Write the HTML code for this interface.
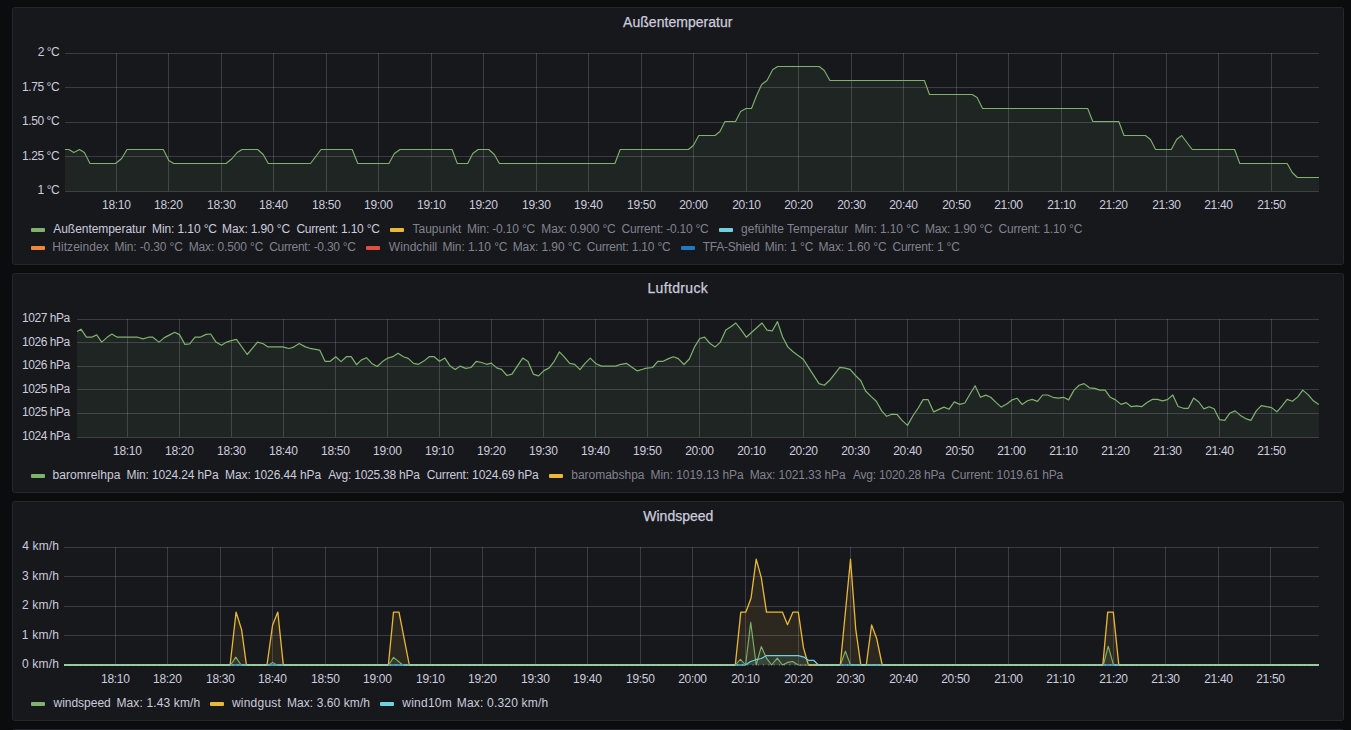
<!DOCTYPE html>
<html><head><meta charset="utf-8"><title>Grafana</title>
<style>
html,body{margin:0;padding:0;background:#0b0c0e;width:1351px;height:730px;overflow:hidden;}
svg{display:block;font-family:"Liberation Sans",sans-serif;}
.ttl{stroke:#ccccdc;stroke-width:0.25px;}
</style></head><body>
<svg width="1351" height="730" viewBox="0 0 1351 730">
<rect x="12.5" y="7.5" width="1331" height="257" rx="2" ry="2" fill="#17181c" stroke="#25272c" stroke-width="1"/>
<rect x="12.5" y="273.5" width="1331" height="219" rx="2" ry="2" fill="#17181c" stroke="#25272c" stroke-width="1"/>
<rect x="12.5" y="501.5" width="1331" height="219" rx="2" ry="2" fill="#17181c" stroke="#25272c" stroke-width="1"/>
<rect x="12.5" y="729.5" width="1331" height="219" rx="2" ry="2" fill="#17181c" stroke="#25272c" stroke-width="1"/>
<path d="M65.0,191.5 L65.0,149.5 L68.9,149.5 L73.8,152.5 L79.5,149.5 L84.4,152.5 L90.0,163.5 L115.5,163.5 L121.7,158.5 L127.0,149.5 L163.3,149.5 L168.8,160.5 L173.7,163.5 L226.1,163.5 L232.1,158.5 L237.2,152.5 L242.1,149.5 L257.6,149.5 L263.2,154.5 L268.3,163.5 L310.5,163.5 L321.0,149.5 L352.2,149.5 L357.8,163.5 L388.9,163.5 L394.4,153.5 L400.0,149.5 L452.1,149.5 L457.3,163.5 L467.7,163.5 L472.8,153.5 L478.1,149.5 L488.8,149.5 L494.3,154.5 L499.4,163.5 L614.9,163.5 L620.2,149.5 L688.4,149.5 L693.3,145.5 L698.8,135.5 L715.0,135.5 L719.9,131.5 L725.0,121.5 L735.5,121.5 L740.6,111.5 L745.9,108.5 L751.5,108.5 L756.6,95.5 L761.7,84.5 L767.0,80.5 L772.8,69.5 L777.7,66.5 L819.2,66.5 L824.3,70.5 L829.9,80.5 L924.4,80.5 L929.5,94.5 L972.2,94.5 L977.1,97.5 L982.6,108.5 L1087.7,108.5 L1092.8,121.5 L1118.8,121.5 L1124.0,135.5 L1145.4,135.5 L1150.5,139.5 L1155.6,149.5 L1171.3,149.5 L1176.6,139.5 L1181.7,135.5 L1192.2,149.5 L1234.6,149.5 L1239.8,163.5 L1287.2,163.5 L1292.2,172.5 L1297.4,177.5 L1319.0,177.5 L1319.0,191.5 Z" fill="#7EB26D" fill-opacity="0.09"/>
<line x1="65" y1="53.5" x2="1319" y2="53.5" stroke="rgba(204,204,220,0.2)"/>
<line x1="65" y1="87.5" x2="1319" y2="87.5" stroke="rgba(204,204,220,0.2)"/>
<line x1="65" y1="122.5" x2="1319" y2="122.5" stroke="rgba(204,204,220,0.2)"/>
<line x1="65" y1="156.5" x2="1319" y2="156.5" stroke="rgba(204,204,220,0.2)"/>
<line x1="65" y1="191.5" x2="1319" y2="191.5" stroke="rgba(204,204,220,0.2)"/>
<line x1="116.5" y1="53" x2="116.5" y2="191" stroke="rgba(204,204,220,0.2)"/>
<line x1="168.5" y1="53" x2="168.5" y2="191" stroke="rgba(204,204,220,0.2)"/>
<line x1="221.5" y1="53" x2="221.5" y2="191" stroke="rgba(204,204,220,0.2)"/>
<line x1="273.5" y1="53" x2="273.5" y2="191" stroke="rgba(204,204,220,0.2)"/>
<line x1="326.5" y1="53" x2="326.5" y2="191" stroke="rgba(204,204,220,0.2)"/>
<line x1="378.5" y1="53" x2="378.5" y2="191" stroke="rgba(204,204,220,0.2)"/>
<line x1="431.5" y1="53" x2="431.5" y2="191" stroke="rgba(204,204,220,0.2)"/>
<line x1="483.5" y1="53" x2="483.5" y2="191" stroke="rgba(204,204,220,0.2)"/>
<line x1="536.5" y1="53" x2="536.5" y2="191" stroke="rgba(204,204,220,0.2)"/>
<line x1="588.5" y1="53" x2="588.5" y2="191" stroke="rgba(204,204,220,0.2)"/>
<line x1="641.5" y1="53" x2="641.5" y2="191" stroke="rgba(204,204,220,0.2)"/>
<line x1="693.5" y1="53" x2="693.5" y2="191" stroke="rgba(204,204,220,0.2)"/>
<line x1="746.5" y1="53" x2="746.5" y2="191" stroke="rgba(204,204,220,0.2)"/>
<line x1="798.5" y1="53" x2="798.5" y2="191" stroke="rgba(204,204,220,0.2)"/>
<line x1="851.5" y1="53" x2="851.5" y2="191" stroke="rgba(204,204,220,0.2)"/>
<line x1="903.5" y1="53" x2="903.5" y2="191" stroke="rgba(204,204,220,0.2)"/>
<line x1="956.5" y1="53" x2="956.5" y2="191" stroke="rgba(204,204,220,0.2)"/>
<line x1="1008.5" y1="53" x2="1008.5" y2="191" stroke="rgba(204,204,220,0.2)"/>
<line x1="1061.5" y1="53" x2="1061.5" y2="191" stroke="rgba(204,204,220,0.2)"/>
<line x1="1113.5" y1="53" x2="1113.5" y2="191" stroke="rgba(204,204,220,0.2)"/>
<line x1="1166.5" y1="53" x2="1166.5" y2="191" stroke="rgba(204,204,220,0.2)"/>
<line x1="1218.5" y1="53" x2="1218.5" y2="191" stroke="rgba(204,204,220,0.2)"/>
<line x1="1271.5" y1="53" x2="1271.5" y2="191" stroke="rgba(204,204,220,0.2)"/>
<polyline points="65.0,149.5 68.9,149.5 73.8,152.5 79.5,149.5 84.4,152.5 90.0,163.5 115.5,163.5 121.7,158.5 127.0,149.5 163.3,149.5 168.8,160.5 173.7,163.5 226.1,163.5 232.1,158.5 237.2,152.5 242.1,149.5 257.6,149.5 263.2,154.5 268.3,163.5 310.5,163.5 321.0,149.5 352.2,149.5 357.8,163.5 388.9,163.5 394.4,153.5 400.0,149.5 452.1,149.5 457.3,163.5 467.7,163.5 472.8,153.5 478.1,149.5 488.8,149.5 494.3,154.5 499.4,163.5 614.9,163.5 620.2,149.5 688.4,149.5 693.3,145.5 698.8,135.5 715.0,135.5 719.9,131.5 725.0,121.5 735.5,121.5 740.6,111.5 745.9,108.5 751.5,108.5 756.6,95.5 761.7,84.5 767.0,80.5 772.8,69.5 777.7,66.5 819.2,66.5 824.3,70.5 829.9,80.5 924.4,80.5 929.5,94.5 972.2,94.5 977.1,97.5 982.6,108.5 1087.7,108.5 1092.8,121.5 1118.8,121.5 1124.0,135.5 1145.4,135.5 1150.5,139.5 1155.6,149.5 1171.3,149.5 1176.6,139.5 1181.7,135.5 1192.2,149.5 1234.6,149.5 1239.8,163.5 1287.2,163.5 1292.2,172.5 1297.4,177.5 1319.0,177.5" fill="none" stroke="#7EB26D" stroke-width="1.1" stroke-linejoin="round"/>
<rect x="31" y="228" width="14" height="4" rx="1" fill="#7EB26D"/>
<rect x="390" y="228" width="14" height="4" rx="1" fill="#EAB839"/>
<rect x="719" y="228" width="14" height="4" rx="1" fill="#6ED0E0"/>
<rect x="31" y="246" width="14" height="4" rx="1" fill="#EF843C"/>
<rect x="366" y="246" width="14" height="4" rx="1" fill="#E24D42"/>
<rect x="681" y="246" width="14" height="4" rx="1" fill="#1F78C1"/>
<path d="M77.1,437.5 L77.1,331.4 L81.0,329.2 L86.4,337.2 L91.7,337.2 L96.7,334.9 L101.7,342.1 L107.4,337.1 L111.9,334.0 L117.2,337.2 L137.7,337.2 L143.0,338.9 L148.4,337.2 L152.8,337.2 L159.0,342.1 L164.4,337.6 L169.7,334.9 L174.7,332.3 L179.5,334.6 L184.9,344.4 L189.7,343.8 L195.0,337.2 L200.0,337.2 L206.2,334.4 L210.7,334.0 L216.0,342.1 L221.4,345.3 L226.7,342.1 L231.2,340.6 L236.5,339.4 L247.2,354.5 L257.5,342.1 L263.2,343.8 L268.0,346.9 L282.8,346.9 L288.9,348.5 L292.9,347.4 L299.2,343.5 L305.4,346.9 L309.9,348.3 L319.7,350.1 L325.0,361.3 L330.3,361.3 L335.7,356.8 L341.0,361.6 L346.4,356.7 L351.2,356.7 L356.5,364.7 L361.5,359.9 L366.5,357.7 L371.8,363.4 L377.2,366.5 L382.5,361.6 L387.9,358.1 L392.7,356.7 L398.0,353.3 L403.4,356.7 L408.2,358.4 L413.5,363.4 L418.5,364.3 L423.8,361.1 L429.2,356.7 L434.2,356.7 L439.5,361.3 L444.9,358.1 L450.2,366.1 L455.2,369.5 L460.3,366.1 L465.7,368.4 L471.0,367.5 L476.2,361.3 L481.7,362.5 L486.5,364.3 L491.3,363.1 L496.7,367.9 L501.6,369.3 L507.0,375.5 L512.0,374.1 L517.3,366.1 L522.7,358.1 L528.0,361.6 L533.3,374.1 L538.5,375.9 L543.9,370.6 L549.2,367.9 L554.2,361.3 L559.4,351.9 L564.0,356.7 L569.7,363.4 L574.7,364.3 L580.0,369.7 L585.0,363.4 L590.3,358.1 L596.0,363.8 L601.4,366.1 L615.6,366.1 L621.0,364.3 L626.7,363.4 L632.0,367.3 L637.4,370.9 L642.7,369.3 L645.3,368.4 L652.5,367.5 L657.8,361.3 L663.2,361.3 L668.5,358.6 L673.5,356.7 L678.3,358.6 L684.0,364.5 L689.3,359.0 L694.3,347.4 L699.7,338.5 L704.6,337.2 L710.0,343.5 L715.2,346.9 L720.1,342.4 L725.8,329.9 L731.2,326.4 L735.8,323.0 L741.0,329.6 L746.3,337.2 L751.7,332.3 L757.0,327.5 L762.0,323.0 L767.0,330.1 L772.3,330.8 L777.5,321.6 L782.5,336.7 L787.8,346.9 L792.8,351.5 L798.1,355.4 L803.5,359.5 L808.8,367.9 L814.0,375.9 L819.0,383.6 L824.3,385.3 L829.7,380.3 L835.0,373.6 L839.8,367.3 L845.1,368.2 L850.1,369.3 L855.5,375.5 L860.8,380.7 L865.6,391.0 L871.0,396.4 L876.3,401.2 L881.6,410.6 L886.6,416.3 L891.8,414.2 L897.1,414.5 L902.1,420.4 L907.5,425.4 L912.8,416.0 L918.2,408.0 L923.1,399.6 L928.0,399.6 L933.7,411.9 L939.0,409.4 L944.0,407.1 L949.0,409.2 L954.3,401.9 L959.7,404.4 L964.8,403.0 L970.2,393.7 L975.1,385.7 L980.5,397.3 L985.8,395.1 L990.8,397.3 L996.2,402.6 L1001.3,407.1 L1006.7,403.9 L1012.0,399.9 L1017.0,398.2 L1022.1,404.4 L1027.5,400.8 L1032.1,399.4 L1037.5,401.4 L1042.6,395.0 L1047.6,395.0 L1052.9,397.3 L1058.3,398.2 L1063.6,397.3 L1068.6,399.9 L1074.0,390.1 L1079.1,385.3 L1084.1,383.6 L1089.5,387.8 L1094.8,388.4 L1099.8,390.1 L1105.1,390.1 L1110.3,397.3 L1115.6,399.9 L1121.0,404.4 L1126.3,402.6 L1131.3,406.7 L1136.6,405.8 L1141.6,406.7 L1147.0,402.6 L1152.2,399.4 L1157.5,399.4 L1162.5,400.8 L1167.5,399.6 L1172.8,395.0 L1178.1,406.5 L1183.5,408.3 L1188.3,408.3 L1193.6,398.1 L1198.8,402.0 L1203.9,408.9 L1209.1,406.7 L1214.1,408.8 L1219.6,419.7 L1224.8,420.4 L1229.6,413.3 L1235.1,410.9 L1240.4,415.4 L1245.6,418.6 L1250.9,420.4 L1256.3,410.9 L1261.3,405.6 L1266.6,406.7 L1271.6,407.6 L1276.9,411.8 L1282.3,405.6 L1287.1,399.4 L1292.4,401.2 L1297.8,396.9 L1302.7,390.1 L1308.1,394.6 L1313.4,400.8 L1318.8,404.4 L1318.8,437.5 Z" fill="#7EB26D" fill-opacity="0.09"/>
<line x1="77" y1="319.5" x2="1319" y2="319.5" stroke="rgba(204,204,220,0.2)"/>
<line x1="77" y1="342.5" x2="1319" y2="342.5" stroke="rgba(204,204,220,0.2)"/>
<line x1="77" y1="366.5" x2="1319" y2="366.5" stroke="rgba(204,204,220,0.2)"/>
<line x1="77" y1="389.5" x2="1319" y2="389.5" stroke="rgba(204,204,220,0.2)"/>
<line x1="77" y1="413.5" x2="1319" y2="413.5" stroke="rgba(204,204,220,0.2)"/>
<line x1="77" y1="437.5" x2="1319" y2="437.5" stroke="rgba(204,204,220,0.2)"/>
<line x1="127.5" y1="319" x2="127.5" y2="437" stroke="rgba(204,204,220,0.2)"/>
<line x1="179.5" y1="319" x2="179.5" y2="437" stroke="rgba(204,204,220,0.2)"/>
<line x1="231.5" y1="319" x2="231.5" y2="437" stroke="rgba(204,204,220,0.2)"/>
<line x1="283.5" y1="319" x2="283.5" y2="437" stroke="rgba(204,204,220,0.2)"/>
<line x1="335.5" y1="319" x2="335.5" y2="437" stroke="rgba(204,204,220,0.2)"/>
<line x1="387.5" y1="319" x2="387.5" y2="437" stroke="rgba(204,204,220,0.2)"/>
<line x1="439.5" y1="319" x2="439.5" y2="437" stroke="rgba(204,204,220,0.2)"/>
<line x1="491.5" y1="319" x2="491.5" y2="437" stroke="rgba(204,204,220,0.2)"/>
<line x1="543.5" y1="319" x2="543.5" y2="437" stroke="rgba(204,204,220,0.2)"/>
<line x1="595.5" y1="319" x2="595.5" y2="437" stroke="rgba(204,204,220,0.2)"/>
<line x1="647.5" y1="319" x2="647.5" y2="437" stroke="rgba(204,204,220,0.2)"/>
<line x1="699.5" y1="319" x2="699.5" y2="437" stroke="rgba(204,204,220,0.2)"/>
<line x1="751.5" y1="319" x2="751.5" y2="437" stroke="rgba(204,204,220,0.2)"/>
<line x1="803.5" y1="319" x2="803.5" y2="437" stroke="rgba(204,204,220,0.2)"/>
<line x1="855.5" y1="319" x2="855.5" y2="437" stroke="rgba(204,204,220,0.2)"/>
<line x1="907.5" y1="319" x2="907.5" y2="437" stroke="rgba(204,204,220,0.2)"/>
<line x1="959.5" y1="319" x2="959.5" y2="437" stroke="rgba(204,204,220,0.2)"/>
<line x1="1011.5" y1="319" x2="1011.5" y2="437" stroke="rgba(204,204,220,0.2)"/>
<line x1="1063.5" y1="319" x2="1063.5" y2="437" stroke="rgba(204,204,220,0.2)"/>
<line x1="1115.5" y1="319" x2="1115.5" y2="437" stroke="rgba(204,204,220,0.2)"/>
<line x1="1167.5" y1="319" x2="1167.5" y2="437" stroke="rgba(204,204,220,0.2)"/>
<line x1="1219.5" y1="319" x2="1219.5" y2="437" stroke="rgba(204,204,220,0.2)"/>
<line x1="1271.5" y1="319" x2="1271.5" y2="437" stroke="rgba(204,204,220,0.2)"/>
<polyline points="77.1,331.4 81.0,329.2 86.4,337.2 91.7,337.2 96.7,334.9 101.7,342.1 107.4,337.1 111.9,334.0 117.2,337.2 137.7,337.2 143.0,338.9 148.4,337.2 152.8,337.2 159.0,342.1 164.4,337.6 169.7,334.9 174.7,332.3 179.5,334.6 184.9,344.4 189.7,343.8 195.0,337.2 200.0,337.2 206.2,334.4 210.7,334.0 216.0,342.1 221.4,345.3 226.7,342.1 231.2,340.6 236.5,339.4 247.2,354.5 257.5,342.1 263.2,343.8 268.0,346.9 282.8,346.9 288.9,348.5 292.9,347.4 299.2,343.5 305.4,346.9 309.9,348.3 319.7,350.1 325.0,361.3 330.3,361.3 335.7,356.8 341.0,361.6 346.4,356.7 351.2,356.7 356.5,364.7 361.5,359.9 366.5,357.7 371.8,363.4 377.2,366.5 382.5,361.6 387.9,358.1 392.7,356.7 398.0,353.3 403.4,356.7 408.2,358.4 413.5,363.4 418.5,364.3 423.8,361.1 429.2,356.7 434.2,356.7 439.5,361.3 444.9,358.1 450.2,366.1 455.2,369.5 460.3,366.1 465.7,368.4 471.0,367.5 476.2,361.3 481.7,362.5 486.5,364.3 491.3,363.1 496.7,367.9 501.6,369.3 507.0,375.5 512.0,374.1 517.3,366.1 522.7,358.1 528.0,361.6 533.3,374.1 538.5,375.9 543.9,370.6 549.2,367.9 554.2,361.3 559.4,351.9 564.0,356.7 569.7,363.4 574.7,364.3 580.0,369.7 585.0,363.4 590.3,358.1 596.0,363.8 601.4,366.1 615.6,366.1 621.0,364.3 626.7,363.4 632.0,367.3 637.4,370.9 642.7,369.3 645.3,368.4 652.5,367.5 657.8,361.3 663.2,361.3 668.5,358.6 673.5,356.7 678.3,358.6 684.0,364.5 689.3,359.0 694.3,347.4 699.7,338.5 704.6,337.2 710.0,343.5 715.2,346.9 720.1,342.4 725.8,329.9 731.2,326.4 735.8,323.0 741.0,329.6 746.3,337.2 751.7,332.3 757.0,327.5 762.0,323.0 767.0,330.1 772.3,330.8 777.5,321.6 782.5,336.7 787.8,346.9 792.8,351.5 798.1,355.4 803.5,359.5 808.8,367.9 814.0,375.9 819.0,383.6 824.3,385.3 829.7,380.3 835.0,373.6 839.8,367.3 845.1,368.2 850.1,369.3 855.5,375.5 860.8,380.7 865.6,391.0 871.0,396.4 876.3,401.2 881.6,410.6 886.6,416.3 891.8,414.2 897.1,414.5 902.1,420.4 907.5,425.4 912.8,416.0 918.2,408.0 923.1,399.6 928.0,399.6 933.7,411.9 939.0,409.4 944.0,407.1 949.0,409.2 954.3,401.9 959.7,404.4 964.8,403.0 970.2,393.7 975.1,385.7 980.5,397.3 985.8,395.1 990.8,397.3 996.2,402.6 1001.3,407.1 1006.7,403.9 1012.0,399.9 1017.0,398.2 1022.1,404.4 1027.5,400.8 1032.1,399.4 1037.5,401.4 1042.6,395.0 1047.6,395.0 1052.9,397.3 1058.3,398.2 1063.6,397.3 1068.6,399.9 1074.0,390.1 1079.1,385.3 1084.1,383.6 1089.5,387.8 1094.8,388.4 1099.8,390.1 1105.1,390.1 1110.3,397.3 1115.6,399.9 1121.0,404.4 1126.3,402.6 1131.3,406.7 1136.6,405.8 1141.6,406.7 1147.0,402.6 1152.2,399.4 1157.5,399.4 1162.5,400.8 1167.5,399.6 1172.8,395.0 1178.1,406.5 1183.5,408.3 1188.3,408.3 1193.6,398.1 1198.8,402.0 1203.9,408.9 1209.1,406.7 1214.1,408.8 1219.6,419.7 1224.8,420.4 1229.6,413.3 1235.1,410.9 1240.4,415.4 1245.6,418.6 1250.9,420.4 1256.3,410.9 1261.3,405.6 1266.6,406.7 1271.6,407.6 1276.9,411.8 1282.3,405.6 1287.1,399.4 1292.4,401.2 1297.8,396.9 1302.7,390.1 1308.1,394.6 1313.4,400.8 1318.8,404.4" fill="none" stroke="#7EB26D" stroke-width="1.2" stroke-linejoin="round"/>
<rect x="31" y="474" width="14" height="4" rx="1" fill="#7EB26D"/>
<rect x="549" y="474" width="14" height="4" rx="1" fill="#EAB839"/>
<line x1="64" y1="547.5" x2="1319" y2="547.5" stroke="rgba(204,204,220,0.2)"/>
<line x1="64" y1="576.5" x2="1319" y2="576.5" stroke="rgba(204,204,220,0.2)"/>
<line x1="64" y1="606.5" x2="1319" y2="606.5" stroke="rgba(204,204,220,0.2)"/>
<line x1="64" y1="635.5" x2="1319" y2="635.5" stroke="rgba(204,204,220,0.2)"/>
<line x1="115.5" y1="547" x2="115.5" y2="665" stroke="rgba(204,204,220,0.2)"/>
<line x1="167.5" y1="547" x2="167.5" y2="665" stroke="rgba(204,204,220,0.2)"/>
<line x1="220.5" y1="547" x2="220.5" y2="665" stroke="rgba(204,204,220,0.2)"/>
<line x1="272.5" y1="547" x2="272.5" y2="665" stroke="rgba(204,204,220,0.2)"/>
<line x1="325.5" y1="547" x2="325.5" y2="665" stroke="rgba(204,204,220,0.2)"/>
<line x1="377.5" y1="547" x2="377.5" y2="665" stroke="rgba(204,204,220,0.2)"/>
<line x1="430.5" y1="547" x2="430.5" y2="665" stroke="rgba(204,204,220,0.2)"/>
<line x1="482.5" y1="547" x2="482.5" y2="665" stroke="rgba(204,204,220,0.2)"/>
<line x1="535.5" y1="547" x2="535.5" y2="665" stroke="rgba(204,204,220,0.2)"/>
<line x1="587.5" y1="547" x2="587.5" y2="665" stroke="rgba(204,204,220,0.2)"/>
<line x1="640.5" y1="547" x2="640.5" y2="665" stroke="rgba(204,204,220,0.2)"/>
<line x1="692.5" y1="547" x2="692.5" y2="665" stroke="rgba(204,204,220,0.2)"/>
<line x1="745.5" y1="547" x2="745.5" y2="665" stroke="rgba(204,204,220,0.2)"/>
<line x1="798.5" y1="547" x2="798.5" y2="665" stroke="rgba(204,204,220,0.2)"/>
<line x1="850.5" y1="547" x2="850.5" y2="665" stroke="rgba(204,204,220,0.2)"/>
<line x1="903.5" y1="547" x2="903.5" y2="665" stroke="rgba(204,204,220,0.2)"/>
<line x1="955.5" y1="547" x2="955.5" y2="665" stroke="rgba(204,204,220,0.2)"/>
<line x1="1008.5" y1="547" x2="1008.5" y2="665" stroke="rgba(204,204,220,0.2)"/>
<line x1="1060.5" y1="547" x2="1060.5" y2="665" stroke="rgba(204,204,220,0.2)"/>
<line x1="1113.5" y1="547" x2="1113.5" y2="665" stroke="rgba(204,204,220,0.2)"/>
<line x1="1165.5" y1="547" x2="1165.5" y2="665" stroke="rgba(204,204,220,0.2)"/>
<line x1="1218.5" y1="547" x2="1218.5" y2="665" stroke="rgba(204,204,220,0.2)"/>
<line x1="1270.5" y1="547" x2="1270.5" y2="665" stroke="rgba(204,204,220,0.2)"/>
<path d="M64.0,665 L64.0,665.0 L230.6,665.0 L235.8,657.1 L241.1,665.0 L268.9,665.0 L272.6,662.4 L276.6,665.0 L388.7,665.0 L393.5,657.4 L402.8,665.0 L735.3,665.0 L740.4,659.4 L745.6,665.0 L750.7,622.4 L756.2,665.0 L761.3,646.5 L766.5,658.2 L771.6,665.0 L777.3,658.2 L782.4,665.0 L787.5,662.4 L792.7,661.5 L798.3,665.0 L840.3,665.0 L845.4,651.2 L850.5,665.0 L1103.4,665.0 L1108.2,646.2 L1113.5,665.0 L1319.0,665.0 L1319.0,665 Z" fill="#7EB26D" fill-opacity="0.1"/>
<path d="M64.0,665 L64.0,665.0 L230.1,665.0 L236.1,612.1 L241.6,629.7 L246.4,665.0 L267.0,665.0 L272.6,625.0 L277.8,612.1 L283.3,665.0 L388.4,665.0 L393.5,612.1 L399.0,612.1 L409.3,665.0 L735.3,665.0 L740.8,612.1 L745.9,612.1 L751.0,598.3 L756.2,559.2 L761.3,577.7 L766.5,612.1 L782.4,612.1 L787.5,624.7 L793.0,612.1 L798.3,612.1 L803.5,647.9 L808.4,665.0 L840.3,665.0 L850.5,559.2 L855.7,628.8 L860.8,665.0 L866.3,665.0 L871.6,625.0 L876.6,638.2 L882.2,665.0 L1102.8,665.0 L1107.7,612.1 L1113.3,612.1 L1118.8,665.0 L1319.0,665.0 L1319.0,665 Z" fill="#EAB839" fill-opacity="0.1"/>
<path d="M64.0,665 L64.0,665.0 L745.2,665.0 L750.7,661.5 L755.8,659.7 L761.3,658.5 L766.5,655.6 L798.3,655.6 L803.8,657.1 L808.4,660.3 L813.6,660.3 L818.4,665.0 L1319.0,665.0 L1319.0,665 Z" fill="#6ED0E0" fill-opacity="0.1"/>
<polyline points="64.0,665.0 230.6,665.0 235.8,657.1 241.1,665.0 268.9,665.0 272.6,662.4 276.6,665.0 388.7,665.0 393.5,657.4 402.8,665.0 735.3,665.0 740.4,659.4 745.6,665.0 750.7,622.4 756.2,665.0 761.3,646.5 766.5,658.2 771.6,665.0 777.3,658.2 782.4,665.0 787.5,662.4 792.7,661.5 798.3,665.0 840.3,665.0 845.4,651.2 850.5,665.0 1103.4,665.0 1108.2,646.2 1113.5,665.0 1319.0,665.0" fill="none" stroke="#7EB26D" stroke-width="1.1" stroke-linejoin="round"/>
<polyline points="64.0,665.0 230.1,665.0 236.1,612.1 241.6,629.7 246.4,665.0 267.0,665.0 272.6,625.0 277.8,612.1 283.3,665.0 388.4,665.0 393.5,612.1 399.0,612.1 409.3,665.0 735.3,665.0 740.8,612.1 745.9,612.1 751.0,598.3 756.2,559.2 761.3,577.7 766.5,612.1 782.4,612.1 787.5,624.7 793.0,612.1 798.3,612.1 803.5,647.9 808.4,665.0 840.3,665.0 850.5,559.2 855.7,628.8 860.8,665.0 866.3,665.0 871.6,625.0 876.6,638.2 882.2,665.0 1102.8,665.0 1107.7,612.1 1113.3,612.1 1118.8,665.0 1319.0,665.0" fill="none" stroke="#EAB839" stroke-width="1.3" stroke-linejoin="round"/>
<polyline points="64.0,665.0 745.2,665.0 750.7,661.5 755.8,659.7 761.3,658.5 766.5,655.6 798.3,655.6 803.8,657.1 808.4,660.3 813.6,660.3 818.4,665.0 1319.0,665.0" fill="none" stroke="#6ED0E0" stroke-width="1.2" stroke-linejoin="round"/>
<line x1="64.00" y1="665" x2="230.25" y2="665" stroke="#97c9a0" stroke-width="2"/>
<line x1="230.25" y1="665" x2="230.75" y2="665" stroke="#66b3b3" stroke-width="2"/>
<line x1="230.75" y1="665" x2="241.25" y2="665" stroke="#4f94a6" stroke-width="2"/>
<line x1="241.25" y1="665" x2="246.50" y2="665" stroke="#66b3b3" stroke-width="2"/>
<line x1="246.50" y1="665" x2="267.25" y2="665" stroke="#97c9a0" stroke-width="2"/>
<line x1="267.25" y1="665" x2="269.00" y2="665" stroke="#66b3b3" stroke-width="2"/>
<line x1="269.00" y1="665" x2="276.75" y2="665" stroke="#4f94a6" stroke-width="2"/>
<line x1="276.75" y1="665" x2="283.50" y2="665" stroke="#66b3b3" stroke-width="2"/>
<line x1="283.50" y1="665" x2="388.50" y2="665" stroke="#97c9a0" stroke-width="2"/>
<line x1="388.50" y1="665" x2="388.75" y2="665" stroke="#66b3b3" stroke-width="2"/>
<line x1="388.75" y1="665" x2="403.00" y2="665" stroke="#4f94a6" stroke-width="2"/>
<line x1="403.00" y1="665" x2="409.50" y2="665" stroke="#66b3b3" stroke-width="2"/>
<line x1="409.50" y1="665" x2="735.50" y2="665" stroke="#97c9a0" stroke-width="2"/>
<line x1="735.50" y1="665" x2="745.25" y2="665" stroke="#4f94a6" stroke-width="2"/>
<line x1="798.50" y1="665" x2="808.50" y2="665" stroke="#4f6a48" stroke-width="2"/>
<line x1="808.50" y1="665" x2="818.50" y2="665" stroke="#b5b56a" stroke-width="2"/>
<line x1="818.50" y1="665" x2="840.50" y2="665" stroke="#97c9a0" stroke-width="2"/>
<line x1="840.50" y1="665" x2="850.50" y2="665" stroke="#4f94a6" stroke-width="2"/>
<line x1="850.50" y1="665" x2="861.00" y2="665" stroke="#66b3b3" stroke-width="2"/>
<line x1="861.00" y1="665" x2="866.50" y2="665" stroke="#97c9a0" stroke-width="2"/>
<line x1="866.50" y1="665" x2="882.25" y2="665" stroke="#66b3b3" stroke-width="2"/>
<line x1="882.25" y1="665" x2="1103.00" y2="665" stroke="#97c9a0" stroke-width="2"/>
<line x1="1103.00" y1="665" x2="1103.50" y2="665" stroke="#66b3b3" stroke-width="2"/>
<line x1="1103.50" y1="665" x2="1113.50" y2="665" stroke="#4f94a6" stroke-width="2"/>
<line x1="1113.50" y1="665" x2="1119.00" y2="665" stroke="#66b3b3" stroke-width="2"/>
<line x1="1119.00" y1="665" x2="1319.00" y2="665" stroke="#97c9a0" stroke-width="2"/>
<line x1="64.3" y1="665" x2="1319" y2="665" stroke="#9fe0d8" stroke-opacity="0.35" stroke-width="2" stroke-dasharray="1 4.254"/>
<rect x="31" y="702" width="14" height="4" rx="1" fill="#7EB26D"/>
<rect x="210" y="702" width="14" height="4" rx="1" fill="#EAB839"/>
<rect x="380" y="702" width="14" height="4" rx="1" fill="#6ED0E0"/>
<text x="53.30" y="233" font-size="12" fill="#ccccdc" textLength="92.64" lengthAdjust="spacing">Außentemperatur</text>
<text x="152.10" y="233" font-size="12" fill="#ccccdc" textLength="64.92" lengthAdjust="spacing">Min: 1.10 °C</text>
<text x="222.10" y="233" font-size="12" fill="#ccccdc" textLength="68.10" lengthAdjust="spacing">Max: 1.90 °C</text>
<text x="296.40" y="233" font-size="12" fill="#ccccdc" textLength="83.54" lengthAdjust="spacing">Current: 1.10 °C</text>
<text x="412.45" y="233" font-size="12" fill="rgba(204,204,220,0.6)" textLength="48.80" lengthAdjust="spacing">Taupunkt</text>
<text x="467.10" y="233" font-size="12" fill="rgba(204,204,220,0.6)" textLength="68.11" lengthAdjust="spacing">Min: -0.10 °C</text>
<text x="541.30" y="233" font-size="12" fill="rgba(204,204,220,0.6)" textLength="74.42" lengthAdjust="spacing">Max: 0.900 °C</text>
<text x="621.60" y="233" font-size="12" fill="rgba(204,204,220,0.6)" textLength="87.14" lengthAdjust="spacing">Current: -0.10 °C</text>
<text x="741.00" y="233" font-size="12" fill="rgba(204,204,220,0.6)" textLength="107.02" lengthAdjust="spacing">gefühlte Temperatur</text>
<text x="854.40" y="233" font-size="12" fill="rgba(204,204,220,0.6)" textLength="65.12" lengthAdjust="spacing">Min: 1.10 °C</text>
<text x="924.90" y="233" font-size="12" fill="rgba(204,204,220,0.6)" textLength="67.80" lengthAdjust="spacing">Max: 1.90 °C</text>
<text x="998.50" y="233" font-size="12" fill="rgba(204,204,220,0.6)" textLength="83.84" lengthAdjust="spacing">Current: 1.10 °C</text>
<text x="52.30" y="251" font-size="12" fill="rgba(204,204,220,0.6)" textLength="56.43" lengthAdjust="spacing">Hitzeindex</text>
<text x="114.40" y="251" font-size="12" fill="rgba(204,204,220,0.6)" textLength="68.51" lengthAdjust="spacing">Min: -0.30 °C</text>
<text x="188.70" y="251" font-size="12" fill="rgba(204,204,220,0.6)" textLength="74.72" lengthAdjust="spacing">Max: 0.500 °C</text>
<text x="269.20" y="251" font-size="12" fill="rgba(204,204,220,0.6)" textLength="86.84" lengthAdjust="spacing">Current: -0.30 °C</text>
<text x="388.80" y="251" font-size="12" fill="rgba(204,204,220,0.6)" textLength="48.47" lengthAdjust="spacing">Windchill</text>
<text x="442.40" y="251" font-size="12" fill="rgba(204,204,220,0.6)" textLength="65.12" lengthAdjust="spacing">Min: 1.10 °C</text>
<text x="512.70" y="251" font-size="12" fill="rgba(204,204,220,0.6)" textLength="68.40" lengthAdjust="spacing">Max: 1.90 °C</text>
<text x="586.80" y="251" font-size="12" fill="rgba(204,204,220,0.6)" textLength="83.94" lengthAdjust="spacing">Current: 1.10 °C</text>
<text x="702.75" y="251" font-size="12" fill="rgba(204,204,220,0.6)" textLength="57.06" lengthAdjust="spacing">TFA-Shield</text>
<text x="764.70" y="251" font-size="12" fill="rgba(204,204,220,0.6)" textLength="48.68" lengthAdjust="spacing">Min: 1 °C</text>
<text x="818.50" y="251" font-size="12" fill="rgba(204,204,220,0.6)" textLength="68.20" lengthAdjust="spacing">Max: 1.60 °C</text>
<text x="892.50" y="251" font-size="12" fill="rgba(204,204,220,0.6)" textLength="67.31" lengthAdjust="spacing">Current: 1 °C</text>
<text x="52.55" y="479" font-size="12" fill="#ccccdc" textLength="67.92" lengthAdjust="spacing">baromrelhpa</text>
<text x="126.60" y="479" font-size="12" fill="#ccccdc" textLength="92.03" lengthAdjust="spacing">Min: 1024.24 hPa</text>
<text x="225.10" y="479" font-size="12" fill="#ccccdc" textLength="96.01" lengthAdjust="spacing">Max: 1026.44 hPa</text>
<text x="328.30" y="479" font-size="12" fill="#ccccdc" textLength="91.55" lengthAdjust="spacing">Avg: 1025.38 hPa</text>
<text x="426.80" y="479" font-size="12" fill="#ccccdc" textLength="111.90" lengthAdjust="spacing">Current: 1024.69 hPa</text>
<text x="571.25" y="479" font-size="12" fill="rgba(204,204,220,0.6)" textLength="73.24" lengthAdjust="spacing">baromabshpa</text>
<text x="650.60" y="479" font-size="12" fill="rgba(204,204,220,0.6)" textLength="93.03" lengthAdjust="spacing">Min: 1019.13 hPa</text>
<text x="749.70" y="479" font-size="12" fill="rgba(204,204,220,0.6)" textLength="96.01" lengthAdjust="spacing">Max: 1021.33 hPa</text>
<text x="852.90" y="479" font-size="12" fill="rgba(204,204,220,0.6)" textLength="92.05" lengthAdjust="spacing">Avg: 1020.28 hPa</text>
<text x="951.30" y="479" font-size="12" fill="rgba(204,204,220,0.6)" textLength="111.90" lengthAdjust="spacing">Current: 1019.61 hPa</text>
<text x="53.50" y="707" font-size="12" fill="#ccccdc" textLength="57.22" lengthAdjust="spacing">windspeed</text>
<text x="116.40" y="707" font-size="12" fill="#ccccdc" textLength="83.83" lengthAdjust="spacing">Max: 1.43 km/h</text>
<text x="231.90" y="707" font-size="12" fill="#ccccdc" textLength="49.03" lengthAdjust="spacing">windgust</text>
<text x="286.90" y="707" font-size="12" fill="#ccccdc" textLength="83.13" lengthAdjust="spacing">Max: 3.60 km/h</text>
<text x="402.30" y="707" font-size="12" fill="#ccccdc" textLength="49.48" lengthAdjust="spacing">wind10m</text>
<text x="456.80" y="707" font-size="12" fill="#ccccdc" textLength="91.32" lengthAdjust="spacing">Max: 0.320 km/h</text>
<text x="37.80" y="56" font-size="12" fill="#ccccdc" textLength="21.88" lengthAdjust="spacing">2 °C</text>
<text x="22.05" y="91" font-size="12" fill="#ccccdc" textLength="37.56" lengthAdjust="spacing">1.75 °C</text>
<text x="22.05" y="125" font-size="12" fill="#ccccdc" textLength="37.56" lengthAdjust="spacing">1.50 °C</text>
<text x="22.05" y="160" font-size="12" fill="#ccccdc" textLength="37.56" lengthAdjust="spacing">1.25 °C</text>
<text x="37.55" y="194" font-size="12" fill="#ccccdc" textLength="22.13" lengthAdjust="spacing">1 °C</text>
<text x="102.00" y="209" font-size="12" fill="#ccccdc" textLength="28.93" lengthAdjust="spacing">18:10</text>
<text x="154.00" y="209" font-size="12" fill="#ccccdc" textLength="28.93" lengthAdjust="spacing">18:20</text>
<text x="207.00" y="209" font-size="12" fill="#ccccdc" textLength="28.93" lengthAdjust="spacing">18:30</text>
<text x="259.00" y="209" font-size="12" fill="#ccccdc" textLength="28.93" lengthAdjust="spacing">18:40</text>
<text x="312.00" y="209" font-size="12" fill="#ccccdc" textLength="28.93" lengthAdjust="spacing">18:50</text>
<text x="364.00" y="209" font-size="12" fill="#ccccdc" textLength="28.93" lengthAdjust="spacing">19:00</text>
<text x="417.00" y="209" font-size="12" fill="#ccccdc" textLength="28.93" lengthAdjust="spacing">19:10</text>
<text x="469.00" y="209" font-size="12" fill="#ccccdc" textLength="28.93" lengthAdjust="spacing">19:20</text>
<text x="522.00" y="209" font-size="12" fill="#ccccdc" textLength="28.93" lengthAdjust="spacing">19:30</text>
<text x="574.00" y="209" font-size="12" fill="#ccccdc" textLength="28.93" lengthAdjust="spacing">19:40</text>
<text x="627.00" y="209" font-size="12" fill="#ccccdc" textLength="28.93" lengthAdjust="spacing">19:50</text>
<text x="679.25" y="209" font-size="12" fill="#ccccdc" textLength="28.68" lengthAdjust="spacing">20:00</text>
<text x="732.25" y="209" font-size="12" fill="#ccccdc" textLength="28.68" lengthAdjust="spacing">20:10</text>
<text x="784.25" y="209" font-size="12" fill="#ccccdc" textLength="28.68" lengthAdjust="spacing">20:20</text>
<text x="837.25" y="209" font-size="12" fill="#ccccdc" textLength="28.68" lengthAdjust="spacing">20:30</text>
<text x="889.25" y="209" font-size="12" fill="#ccccdc" textLength="28.68" lengthAdjust="spacing">20:40</text>
<text x="942.25" y="209" font-size="12" fill="#ccccdc" textLength="28.68" lengthAdjust="spacing">20:50</text>
<text x="994.25" y="209" font-size="12" fill="#ccccdc" textLength="28.68" lengthAdjust="spacing">21:00</text>
<text x="1047.25" y="209" font-size="12" fill="#ccccdc" textLength="28.68" lengthAdjust="spacing">21:10</text>
<text x="1099.25" y="209" font-size="12" fill="#ccccdc" textLength="28.68" lengthAdjust="spacing">21:20</text>
<text x="1152.25" y="209" font-size="12" fill="#ccccdc" textLength="28.68" lengthAdjust="spacing">21:30</text>
<text x="1204.25" y="209" font-size="12" fill="#ccccdc" textLength="28.68" lengthAdjust="spacing">21:40</text>
<text x="1257.25" y="209" font-size="12" fill="#ccccdc" textLength="28.68" lengthAdjust="spacing">21:50</text>
<text x="21.95" y="322" font-size="12" fill="#ccccdc" textLength="48.34" lengthAdjust="spacing">1027 hPa</text>
<text x="21.95" y="346" font-size="12" fill="#ccccdc" textLength="48.34" lengthAdjust="spacing">1026 hPa</text>
<text x="21.95" y="369" font-size="12" fill="#ccccdc" textLength="48.34" lengthAdjust="spacing">1026 hPa</text>
<text x="21.95" y="393" font-size="12" fill="#ccccdc" textLength="48.34" lengthAdjust="spacing">1025 hPa</text>
<text x="21.95" y="416" font-size="12" fill="#ccccdc" textLength="48.34" lengthAdjust="spacing">1025 hPa</text>
<text x="21.95" y="440" font-size="12" fill="#ccccdc" textLength="48.34" lengthAdjust="spacing">1024 hPa</text>
<text x="113.00" y="455" font-size="12" fill="#ccccdc" textLength="28.93" lengthAdjust="spacing">18:10</text>
<text x="165.00" y="455" font-size="12" fill="#ccccdc" textLength="28.93" lengthAdjust="spacing">18:20</text>
<text x="217.00" y="455" font-size="12" fill="#ccccdc" textLength="28.93" lengthAdjust="spacing">18:30</text>
<text x="269.00" y="455" font-size="12" fill="#ccccdc" textLength="28.93" lengthAdjust="spacing">18:40</text>
<text x="321.00" y="455" font-size="12" fill="#ccccdc" textLength="28.93" lengthAdjust="spacing">18:50</text>
<text x="373.00" y="455" font-size="12" fill="#ccccdc" textLength="28.93" lengthAdjust="spacing">19:00</text>
<text x="425.00" y="455" font-size="12" fill="#ccccdc" textLength="28.93" lengthAdjust="spacing">19:10</text>
<text x="477.00" y="455" font-size="12" fill="#ccccdc" textLength="28.93" lengthAdjust="spacing">19:20</text>
<text x="529.00" y="455" font-size="12" fill="#ccccdc" textLength="28.93" lengthAdjust="spacing">19:30</text>
<text x="581.00" y="455" font-size="12" fill="#ccccdc" textLength="28.93" lengthAdjust="spacing">19:40</text>
<text x="633.00" y="455" font-size="12" fill="#ccccdc" textLength="28.93" lengthAdjust="spacing">19:50</text>
<text x="685.25" y="455" font-size="12" fill="#ccccdc" textLength="28.68" lengthAdjust="spacing">20:00</text>
<text x="737.25" y="455" font-size="12" fill="#ccccdc" textLength="28.68" lengthAdjust="spacing">20:10</text>
<text x="789.25" y="455" font-size="12" fill="#ccccdc" textLength="28.68" lengthAdjust="spacing">20:20</text>
<text x="841.25" y="455" font-size="12" fill="#ccccdc" textLength="28.68" lengthAdjust="spacing">20:30</text>
<text x="893.25" y="455" font-size="12" fill="#ccccdc" textLength="28.68" lengthAdjust="spacing">20:40</text>
<text x="945.25" y="455" font-size="12" fill="#ccccdc" textLength="28.68" lengthAdjust="spacing">20:50</text>
<text x="997.25" y="455" font-size="12" fill="#ccccdc" textLength="28.68" lengthAdjust="spacing">21:00</text>
<text x="1049.25" y="455" font-size="12" fill="#ccccdc" textLength="28.68" lengthAdjust="spacing">21:10</text>
<text x="1101.25" y="455" font-size="12" fill="#ccccdc" textLength="28.68" lengthAdjust="spacing">21:20</text>
<text x="1153.25" y="455" font-size="12" fill="#ccccdc" textLength="28.68" lengthAdjust="spacing">21:30</text>
<text x="1205.25" y="455" font-size="12" fill="#ccccdc" textLength="28.68" lengthAdjust="spacing">21:40</text>
<text x="1257.25" y="455" font-size="12" fill="#ccccdc" textLength="28.68" lengthAdjust="spacing">21:50</text>
<text x="22.15" y="550" font-size="12" fill="#ccccdc" textLength="36.82" lengthAdjust="spacing">4 km/h</text>
<text x="21.90" y="580" font-size="12" fill="#ccccdc" textLength="37.07" lengthAdjust="spacing">3 km/h</text>
<text x="21.90" y="609" font-size="12" fill="#ccccdc" textLength="37.07" lengthAdjust="spacing">2 km/h</text>
<text x="21.65" y="639" font-size="12" fill="#ccccdc" textLength="37.32" lengthAdjust="spacing">1 km/h</text>
<text x="21.90" y="668" font-size="12" fill="#ccccdc" textLength="37.07" lengthAdjust="spacing">0 km/h</text>
<text x="101.00" y="683" font-size="12" fill="#ccccdc" textLength="28.93" lengthAdjust="spacing">18:10</text>
<text x="153.00" y="683" font-size="12" fill="#ccccdc" textLength="28.93" lengthAdjust="spacing">18:20</text>
<text x="206.00" y="683" font-size="12" fill="#ccccdc" textLength="28.93" lengthAdjust="spacing">18:30</text>
<text x="258.00" y="683" font-size="12" fill="#ccccdc" textLength="28.93" lengthAdjust="spacing">18:40</text>
<text x="311.00" y="683" font-size="12" fill="#ccccdc" textLength="28.93" lengthAdjust="spacing">18:50</text>
<text x="363.00" y="683" font-size="12" fill="#ccccdc" textLength="28.93" lengthAdjust="spacing">19:00</text>
<text x="416.00" y="683" font-size="12" fill="#ccccdc" textLength="28.93" lengthAdjust="spacing">19:10</text>
<text x="468.00" y="683" font-size="12" fill="#ccccdc" textLength="28.93" lengthAdjust="spacing">19:20</text>
<text x="521.00" y="683" font-size="12" fill="#ccccdc" textLength="28.93" lengthAdjust="spacing">19:30</text>
<text x="573.00" y="683" font-size="12" fill="#ccccdc" textLength="28.93" lengthAdjust="spacing">19:40</text>
<text x="626.00" y="683" font-size="12" fill="#ccccdc" textLength="28.93" lengthAdjust="spacing">19:50</text>
<text x="678.25" y="683" font-size="12" fill="#ccccdc" textLength="28.68" lengthAdjust="spacing">20:00</text>
<text x="731.25" y="683" font-size="12" fill="#ccccdc" textLength="28.68" lengthAdjust="spacing">20:10</text>
<text x="784.25" y="683" font-size="12" fill="#ccccdc" textLength="28.68" lengthAdjust="spacing">20:20</text>
<text x="836.25" y="683" font-size="12" fill="#ccccdc" textLength="28.68" lengthAdjust="spacing">20:30</text>
<text x="889.25" y="683" font-size="12" fill="#ccccdc" textLength="28.68" lengthAdjust="spacing">20:40</text>
<text x="941.25" y="683" font-size="12" fill="#ccccdc" textLength="28.68" lengthAdjust="spacing">20:50</text>
<text x="994.25" y="683" font-size="12" fill="#ccccdc" textLength="28.68" lengthAdjust="spacing">21:00</text>
<text x="1046.25" y="683" font-size="12" fill="#ccccdc" textLength="28.68" lengthAdjust="spacing">21:10</text>
<text x="1099.25" y="683" font-size="12" fill="#ccccdc" textLength="28.68" lengthAdjust="spacing">21:20</text>
<text x="1151.25" y="683" font-size="12" fill="#ccccdc" textLength="28.68" lengthAdjust="spacing">21:30</text>
<text x="1204.25" y="683" font-size="12" fill="#ccccdc" textLength="28.68" lengthAdjust="spacing">21:40</text>
<text x="1256.25" y="683" font-size="12" fill="#ccccdc" textLength="28.68" lengthAdjust="spacing">21:50</text>
<text x="623.10" y="26.7" font-size="14" fill="#ccccdc" class="ttl" textLength="109.30" lengthAdjust="spacing">Außentemperatur</text>
<text x="647.40" y="292.7" font-size="14" fill="#ccccdc" class="ttl" textLength="60.39" lengthAdjust="spacing">Luftdruck</text>
<text x="643.30" y="520.7" font-size="14" fill="#ccccdc" class="ttl" textLength="70.00" lengthAdjust="spacing">Windspeed</text>
</svg>
</body></html>
